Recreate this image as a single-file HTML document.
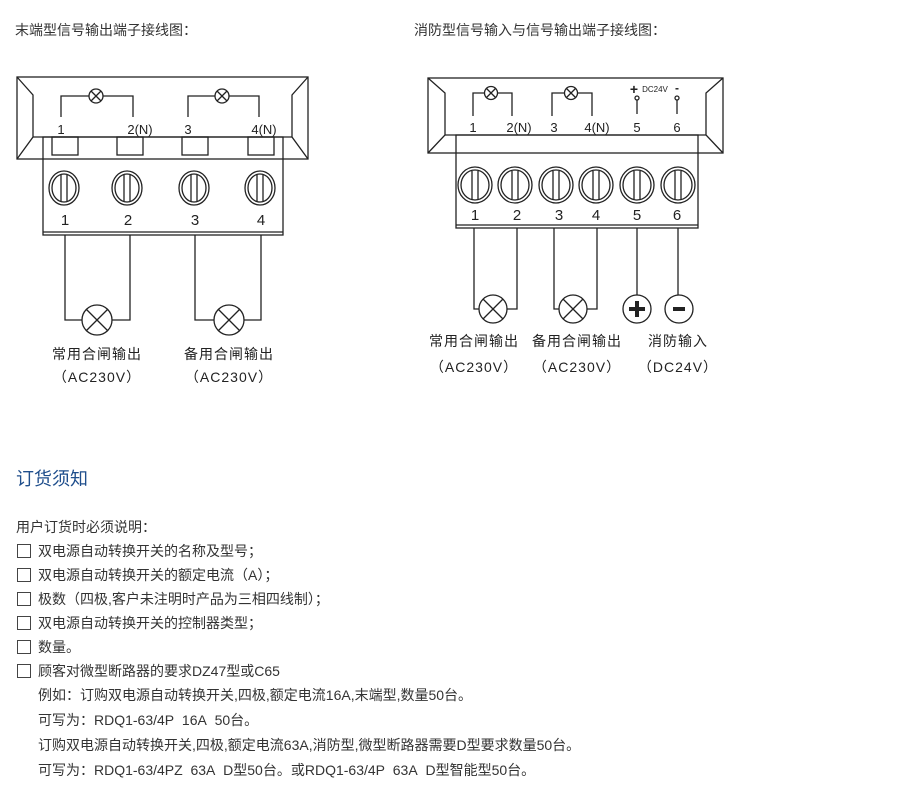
<!DOCTYPE html>
<html><head><meta charset="utf-8"><style>
body{margin:0;background:#fff;width:920px;height:797px;overflow:hidden;font-family:"Liberation Sans","Noto Sans CJK SC",sans-serif;color:#333}
.t{position:absolute;font-size:14px;white-space:nowrap;line-height:16px}
.cb{position:absolute;left:17px;width:12px;height:12px;border:1px solid #444}
</style></head><body>
<svg width="920" height="400" style="position:absolute;left:0;top:0" font-family="Liberation Sans, Noto Sans CJK SC, sans-serif">
<g fill="none" stroke="#222" stroke-width="1.3">
<!-- LEFT -->
<rect x="17" y="77" width="291" height="82"/>
<polyline points="17,77 33,95 33,137 17,159"/>
<polyline points="308,77 292,95 292,137 308,159"/>
<line x1="33" y1="137" x2="292" y2="137"/>
<rect x="43" y="137" width="240" height="98"/>
<line x1="43" y1="232" x2="283" y2="232"/>
<rect x="52" y="137" width="26" height="18"/><rect x="117" y="137" width="26" height="18"/>
<rect x="182" y="137" width="26" height="18"/><rect x="248" y="137" width="26" height="18"/>
<polyline points="61,117 61,96 89,96"/><polyline points="103,96 133,96 133,117"/>
<polyline points="188,117 188,96 215,96"/><polyline points="229,96 259,96 259,117"/>
<circle cx="96" cy="96" r="7"/><circle cx="222" cy="96" r="7"/>
<path d="M91,91l10,10M101,91l-10,10M217,91l10,10M227,91l-10,10"/>
<g id="scr">
<ellipse cx="64" cy="188" rx="15" ry="17"/><ellipse cx="64" cy="188" rx="12" ry="14"/><path d="M61,175v26M67,175v26"/>
</g>
<use href="#scr" x="63"/><use href="#scr" x="130"/><use href="#scr" x="196"/>
<polyline points="65,235 65,320 82,320"/><polyline points="112,320 130,320 130,235"/>
<polyline points="195,235 195,320 214,320"/><polyline points="244,320 261,320 261,235"/>
<circle cx="97" cy="320" r="15"/><circle cx="229" cy="320" r="15"/>
<path d="M86,309l22,22M108,309l-22,22M218,309l22,22M240,309l-22,22"/>
<!-- RIGHT -->
<rect x="428" y="78" width="295" height="75"/>
<polyline points="428,78 445,93 445,135 428,153"/>
<polyline points="723,78 706,93 706,135 723,153"/>
<line x1="445" y1="135" x2="706" y2="135"/>
<rect x="456" y="135" width="242" height="93"/>
<line x1="456" y1="225" x2="698" y2="225"/>
<polyline points="473,116 473,93 485,93"/><polyline points="498,93 512,93 512,116"/>
<polyline points="552,116 552,93 565,93"/><polyline points="578,93 592,93 592,116"/>
<circle cx="491" cy="93" r="6.5"/><circle cx="571" cy="93" r="6.5"/>
<path d="M486,88l10,10M496,88l-10,10M566,88l10,10M576,88l-10,10"/>
<line x1="637" y1="100" x2="637" y2="114"/><line x1="677" y1="100" x2="677" y2="114"/>
<circle cx="637" cy="98" r="2"/><circle cx="677" cy="98" r="2"/>
<g id="s2"><ellipse cx="475" cy="185" rx="17" ry="18"/><ellipse cx="475" cy="185" rx="14" ry="15"/><path d="M472,171v28M478,171v28"/></g>
<use href="#s2" x="40"/><use href="#s2" x="81"/><use href="#s2" x="121"/><use href="#s2" x="162"/><use href="#s2" x="203"/>
<polyline points="474,228 474,309 479,309"/><polyline points="507,309 517,309 517,228"/>
<polyline points="554,228 554,309 559,309"/><polyline points="587,309 597,309 597,228"/>
<line x1="637" y1="228" x2="637" y2="295"/><line x1="678" y1="228" x2="678" y2="295"/>
<circle cx="493" cy="309" r="14"/><circle cx="573" cy="309" r="14"/>
<path d="M483,299l20,20M503,299l-20,20M563,299l20,20M583,299l-20,20"/>
<circle cx="637" cy="309" r="14"/><circle cx="679" cy="309" r="14"/>
</g>
<path d="M629,309h16M637,301v16M673,309h12" stroke="#222" stroke-width="4"/>
<g font-size="13" fill="#222" text-anchor="middle">
<text x="61" y="134">1</text><text x="140" y="134">2(N)</text><text x="188" y="134">3</text><text x="264" y="134">4(N)</text>
<text x="473" y="132">1</text><text x="519" y="132">2(N)</text><text x="554" y="132">3</text><text x="597" y="132">4(N)</text><text x="637" y="132">5</text><text x="677" y="132">6</text>
<text x="655" y="92" font-size="8">DC24V</text>
<text x="634" y="94" font-size="14" font-weight="bold">+</text><text x="677" y="92" font-size="12" font-weight="bold">-</text>
</g>
<g font-size="15" fill="#222" text-anchor="middle">
<text x="65" y="225">1</text><text x="128" y="225">2</text><text x="195" y="225">3</text><text x="261" y="225">4</text>
<text x="475" y="220">1</text><text x="517" y="220">2</text><text x="559" y="220">3</text><text x="596" y="220">4</text><text x="637" y="220">5</text><text x="677" y="220">6</text>
</g>
<g font-size="14" fill="#222" text-anchor="middle" letter-spacing="1">
<text x="97" y="359">常用合闸输出</text><text x="97" y="382">（AC230V）</text>
<text x="229" y="359">备用合闸输出</text><text x="229" y="382">（AC230V）</text>
<text x="474" y="346">常用合闸输出</text><text x="474" y="372">（AC230V）</text>
<text x="577" y="346">备用合闸输出</text><text x="577" y="372">（AC230V）</text>
<text x="678" y="346">消防输入</text><text x="678" y="372">（DC24V）</text>
</g>
</svg>
<div class="t" style="left:15px;top:22px">末端型信号输出端子接线图：</div>
<div class="t" style="left:414px;top:22px">消防型信号输入与信号输出端子接线图：</div>
<div class="t" style="left:16px;top:469px;font-size:18px;line-height:20px;color:#1f4e8c">订货须知</div>
<div class="t" style="left:16px;top:519px">用户订货时必须说明：</div>
<div class="cb" style="top:544px"></div><div class="t" style="left:38px;top:543px">双电源自动转换开关的名称及型号；</div>
<div class="cb" style="top:568px"></div><div class="t" style="left:38px;top:567px">双电源自动转换开关的额定电流（A）；</div>
<div class="cb" style="top:592px"></div><div class="t" style="left:38px;top:591px">极数（四极,客户未注明时产品为三相四线制）；</div>
<div class="cb" style="top:616px"></div><div class="t" style="left:38px;top:615px">双电源自动转换开关的控制器类型；</div>
<div class="cb" style="top:640px"></div><div class="t" style="left:38px;top:639px">数量。</div>
<div class="cb" style="top:664px"></div><div class="t" style="left:38px;top:663px">顾客对微型断路器的要求DZ47型或C65</div>
<div class="t" style="left:38px;top:687px">例如：订购双电源自动转换开关,四极,额定电流16A,末端型,数量50台。</div>
<div class="t" style="left:38px;top:712px">可写为：RDQ1-63/4P&nbsp;&nbsp;16A&nbsp;&nbsp;50台。</div>
<div class="t" style="left:38px;top:737px">订购双电源自动转换开关,四极,额定电流63A,消防型,微型断路器需要D型要求数量50台。</div>
<div class="t" style="left:38px;top:762px">可写为：RDQ1-63/4PZ&nbsp;&nbsp;63A&nbsp;&nbsp;D型50台。或RDQ1-63/4P&nbsp;&nbsp;63A&nbsp;&nbsp;D型智能型50台。</div>
</body></html>
